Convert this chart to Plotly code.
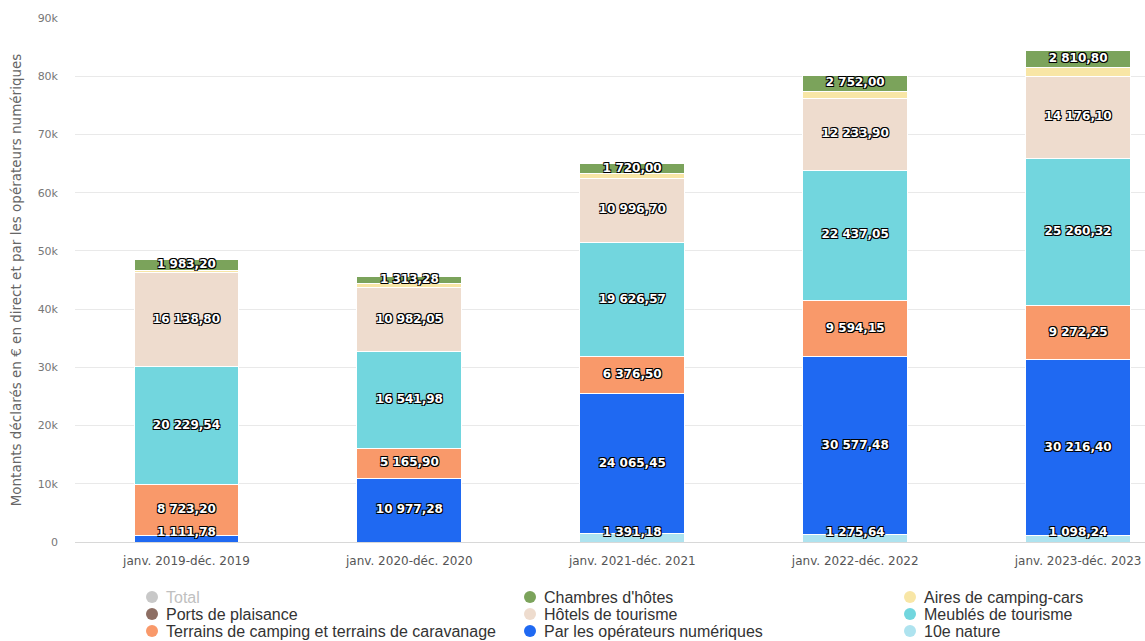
import plotly.graph_objects as go

categories = ["janv. 2019-déc. 2019", "janv. 2020-déc. 2020", "janv. 2021-déc. 2021",
              "janv. 2022-déc. 2022", "janv. 2023-déc. 2023"]
nature_10e = [None, None, 1391.18, 1275.64, 1098.24]
operateurs = [1111.78, 10977.28, 24065.45, 30577.48, 30216.40]
terrains = [8723.20, 5165.90, 6376.50, 9594.15, 9272.25]
meubles = [20229.54, 16541.98, 19626.57, 22437.05, 25260.32]
hotels = [16138.80, 10982.05, 10996.70, 12233.90, 14176.10]
ports = [None, None, None, None, None]
aires = [420.0, 650.0, 800.0, 1300.0, 1500.0]
chambres = [1983.20, 1313.28, 1720.00, 2752.00, 2810.80]
ytick_vals = [0, 10000, 20000, 30000, 40000, 50000, 60000, 70000, 80000, 90000]
ytick_text = ["0", "10k", "20k", "30k", "40k", "50k", "60k", "70k", "80k", "90k"]

series = [
    ("10e nature", nature_10e, "#aee3ef", True),
    ("Par les opérateurs numériques", operateurs, "#1f69f2", True),
    ("Terrains de camping et terrains de caravanage", terrains, "#f9996a", True),
    ("Meublés de tourisme", meubles, "#72d6de", True),
    ("Hôtels de tourisme", hotels, "#eedcce", True),
    ("Ports de plaisance", ports, "#8d6e63", True),
    ("Aires de camping-cars", aires, "#f8e6a6", False),
    ("Chambres d'hôtes", chambres, "#7ba35b", True),
]
colors = {name: c for name, _, c, _ in series}
colors["Total"] = "#c8c8c8"

totals = [sum(v[i] or 0 for _, v, _, _ in series) for i in range(len(categories))]

# legend layout: three columns, row-major order as in the reference
legend_grid = [
    ["Total", "Chambres d'hôtes", "Aires de camping-cars"],
    ["Ports de plaisance", "Hôtels de tourisme", "Meublés de tourisme"],
    ["Terrains de camping et terrains de caravanage", "Par les opérateurs numériques", "10e nature"],
]

LABEL_FONT = "DejaVu Sans"
LEG_FONT = "Liberation Sans, Arial, sans-serif"
outline = "-1px -1px 0 #000, 1px -1px 0 #000, -1px 1px 0 #000, 1px 1px 0 #000"

W, H = 1145, 641
fig = go.Figure()
for name, vals, color, show_lbl in series:
    fig.add_trace(go.Bar(
        x=categories, y=vals, name=name, showlegend=False,
        marker=dict(color=color, line=dict(color="white", width=1)),
        hovertemplate="%{x}<br>" + name + ": %{y:,.2f}<extra></extra>",
    ))

fig.add_trace(go.Bar(x=categories, y=totals, name="Total", visible=False, showlegend=False))

# data labels as a text layer on top of all stacked segments (centre of each segment)
lbl_x, lbl_y, lbl_v = [], [], []
base = [0.0] * len(categories)
for name, vals, color, show_lbl in series:
    for i, v in enumerate(vals):
        if v is None:
            continue
        if show_lbl:
            lbl_x.append(categories[i])
            lbl_y.append(max(base[i] + v / 2, 1600))
            lbl_v.append(v)
        base[i] += v
fig.add_trace(go.Scatter(
    x=lbl_x, y=lbl_y, customdata=lbl_v, mode="text",
    texttemplate="%{customdata:,.2f}", textposition="middle center",
    textfont=dict(family=LABEL_FONT, size=12, color="white", weight="bold", shadow=outline),
    hoverinfo="skip", showlegend=False, cliponaxis=False,
))

# legend drawn as circle shapes + text annotations
col_x = [152, 530, 910]
row_y = [597, 614, 631]
for r, row in enumerate(legend_grid):
    for c, name in enumerate(row):
        cx, cy = col_x[c], row_y[r]
        is_total = name == "Total"
        fig.add_shape(type="circle", xref="paper", yref="paper",
                      x0=(cx - 6 - 75) / (W - 75), x1=(cx + 6 - 75) / (W - 75),
                      y0=(542 - cy - 6) / 524, y1=(542 - cy + 6) / 524,
                      fillcolor=colors[name], line=dict(width=0))
        fig.add_annotation(xref="paper", yref="paper",
                           x=(cx + 12 - 75) / (W - 75), y=(542 - cy) / 524,
                           text=name, showarrow=False, xanchor="left", yanchor="middle",
                           font=dict(family=LEG_FONT, size=16,
                                     color="#c0c0c0" if is_total else "#333333"))

fig.update_layout(
    width=W, height=H,
    barmode="stack", bargap=0.53,
    separators=", ",
    showlegend=False,
    plot_bgcolor="white", paper_bgcolor="white",
    margin=dict(l=75, r=0, t=18, b=99, autoexpand=False),
    font=dict(family="DejaVu Sans", color="#666666"),
    xaxis=dict(
        type="category", range=[-0.5, 4.3],
        showline=True, linecolor="#d8d8d8", linewidth=1,
        showgrid=False, ticks="", tickangle=0, ticklabelstandoff=8,
        tickfont=dict(family="DejaVu Sans", size=12, color="#555555"),
    ),
    yaxis=dict(
        range=[0, 90000], tickvals=ytick_vals, ticktext=ytick_text,
        showgrid=True, gridcolor="#e9e9e9", gridwidth=1, zeroline=False,
        tickfont=dict(family="DejaVu Sans", size=11, color="#777777"),
        ticklabelstandoff=16,
        title=dict(text="Montants déclarés en € en direct et par les opérateurs numériques",
                   font=dict(family="DejaVu Sans", size=13.5, color="#666666"), standoff=12),
    ),
)

fig.write_html("out.html", config={"displayModeBar": False},
               post_script="document.body.style.margin='0';")
